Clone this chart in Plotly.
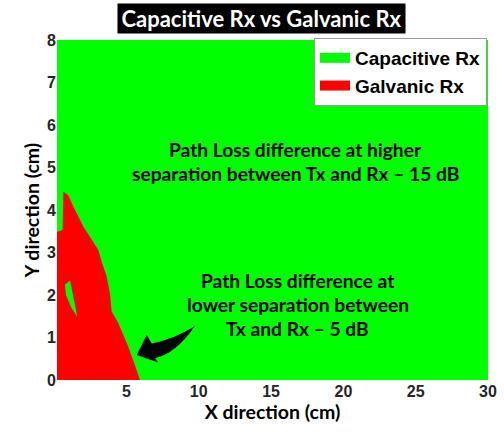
import plotly.graph_objects as go

# Galvanic Rx region boundary (cm)
galv_x = [0.2, 0.2, 0.59, 0.62, 0.64, 0.98, 1.33, 2.02, 3.06, 3.29, 3.64, 3.86, 3.98, 4.44, 5.13, 5.59, 5.94]
galv_y = [0.0, 3.49, 3.53, 4.0, 4.43, 4.35, 4.08, 3.61, 3.06, 2.78, 2.43, 2.04, 1.61, 1.34, 0.78, 0.35, 0.0]
# Capacitive island inside the Galvanic region (cm)
cap_x = [0.75, 1.10, 1.33, 1.60, 1.21, 0.82]
cap_y = [2.24, 2.34, 1.96, 1.49, 1.69, 2.00]

x_ticks = [5, 10, 15, 20, 25, 30]
y_ticks = [0, 1, 2, 3, 4, 5, 6, 7, 8]

series_names = ["Capacitive Rx", "Galvanic Rx"]
GREEN = "#00FF00"
RED = "#FF0000"

ann1_lines = ["Path Loss difference at higher", "separation between Tx and Rx – 15 dB"]
ann2_lines = ["Path Loss difference at", "lower separation between", "Tx and Rx – 5 dB"]

TXT = "Lato, 'Open Sans', sans-serif"
ARIAL = "'Liberation Sans', Arial, sans-serif"

fig = go.Figure()
fig.add_trace(go.Scatter(x=galv_x, y=galv_y, fill="toself", fillcolor=RED, mode="lines",
                         line=dict(width=0, color=RED), showlegend=False, hoverinfo="skip"))
fig.add_trace(go.Scatter(x=cap_x, y=cap_y, fill="toself", fillcolor=GREEN, mode="lines",
                         line=dict(width=0, color=GREEN), showlegend=False, hoverinfo="skip"))
# legend entries (swatches)
for nm, col in zip(series_names, [GREEN, RED]):
    fig.add_trace(go.Scatter(x=[None], y=[None], mode="lines", name=nm,
                             line=dict(width=15, color=col)))

# curved arrow (data coords)
arrow_path = ("M 5.71 0.59 L 6.40 1.06 L 6.75 0.86 Q 8.36 0.97 9.74 1.27 "
              "Q 8.36 0.60 6.98 0.52 L 7.20 0.41 Z")
fig.add_shape(type="path", path=arrow_path, fillcolor="black", line=dict(width=0), layer="above")

ann_font = dict(family=TXT, size=19.2, color="black", weight="bold")
for i, t in enumerate(ann1_lines):
    fig.add_annotation(x=(295 - 57) / 431, y=(380 - (149 + 24 * i)) / 340, xref="paper", yref="paper",
                       showarrow=False, text=t, font=ann_font, xanchor="center", yanchor="middle")
for i, t in enumerate(ann2_lines):
    fig.add_annotation(x=(297.5 - 57) / 431, y=(380 - (280 + 24 * i)) / 340, xref="paper", yref="paper",
                       showarrow=False, text=t, font=ann_font, xanchor="center", yanchor="middle")

# title box
fig.add_annotation(x=(261.5 - 57) / 431, y=(380 - 18.5) / 340, xref="paper", yref="paper",
                   showarrow=False, xanchor="center", yanchor="middle",
                   text="Capacitive Rx vs Galvanic Rx",
                   font=dict(family=TXT, size=22, color="white", weight="bold"),
                   bgcolor="black", width=287, height=29, borderpad=0)

fig.update_layout(
    width=504, height=432,
    margin=dict(l=57, r=16, t=40, b=52, autoexpand=False),
    paper_bgcolor="white", plot_bgcolor=GREEN,
    showlegend=True,
    legend=dict(x=(487 - 57) / 431, y=(380 - 38) / 340, xanchor="right", yanchor="top", bgcolor="white",
                bordercolor="#9a9a9a", borderwidth=1,
                font=dict(family=ARIAL, size=19, color="black", weight="bold"),
                itemwidth=30, traceorder="normal"),
    xaxis=dict(range=[0.2, 30], tickvals=x_ticks, showgrid=False, zeroline=False,
               ticks="", showline=False, automargin=False,
               tickfont=dict(family=ARIAL, size=16, color="#262626", weight="bold"),
               title=dict(text="X direction (cm)", standoff=6,
                          font=dict(family=TXT, size=19.5, color="black", weight="bold"))),
    yaxis=dict(range=[0, 8], tickvals=y_ticks, showgrid=False, zeroline=False,
               ticks="", showline=False, automargin=False,
               tickfont=dict(family=ARIAL, size=16, color="#262626", weight="bold"),
               title=dict(text="Y direction (cm)", standoff=2,
                          font=dict(family=TXT, size=19.5, color="black", weight="bold"))),
)
fig.write_html("out.html", config={"displayModeBar": False},
               post_script="document.body.style.margin='0';")
